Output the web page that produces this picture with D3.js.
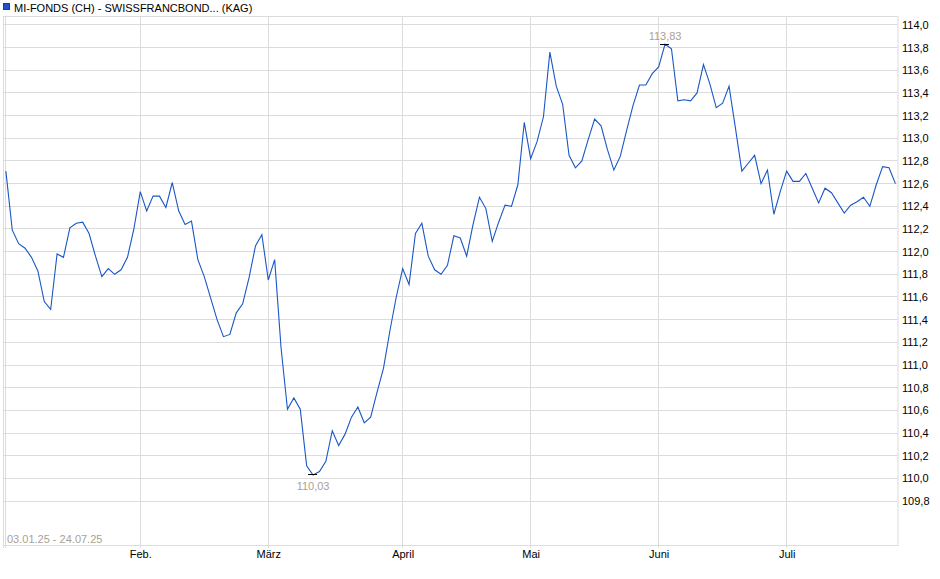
<!DOCTYPE html>
<html><head><meta charset="utf-8">
<script src="https://cdn.jsdelivr.net/npm/d3@7/dist/d3.min.js"></script>
<style>
body{margin:0;background:#fff}
svg{display:block}
text{font-family:"Liberation Sans",Arial,sans-serif;font-size:11px}
</style>
</head><body>
<svg id="chart" width="940" height="579"></svg>
<script>
const seriesName = "MI-FONDS (CH) - SWISSFRANCBOND... (KAG)";
const periodLabel = "03.01.25 - 24.07.25";
// daily prices (trading days 03.01.25 – 24.07.25)
const values = [
  112.71,112.19,112.07,112.03,111.95,111.83,111.56,111.49,111.98,111.95,
  112.21,112.25,112.26,112.16,111.96,111.78,111.85,111.80,111.84,111.95,
  112.20,112.53,112.36,112.49,112.49,112.39,112.61,112.36,112.24,112.27,
  111.93,111.78,111.59,111.40,111.25,111.27,111.46,111.54,111.77,112.05,
  112.15,111.75,111.93,111.15,110.61,110.71,110.61,110.11,110.03,110.06,
  110.15,110.42,110.29,110.39,110.54,110.63,110.49,110.54,110.76,110.97,
  111.30,111.60,111.85,111.71,112.16,112.25,111.96,111.84,111.80,111.88,
  112.14,112.12,111.96,112.24,112.48,112.38,112.09,112.26,112.41,112.40,
  112.59,113.14,112.82,112.97,113.19,113.76,113.46,113.30,112.85,112.74,
  112.80,112.99,113.17,113.11,112.90,112.72,112.84,113.07,113.29,113.47,
  113.47,113.57,113.63,113.83,113.79,113.33,113.34,113.33,113.40,113.65,
  113.48,113.27,113.31,113.46,113.09,112.71,112.78,112.85,112.60,112.72,
  112.33,112.53,112.71,112.62,112.62,112.69,112.56,112.43,112.56,112.52,
  112.43,112.34,112.41,112.44,112.48,112.40,112.59,112.75,112.74,112.60
];
const monthLabels = ["Feb.","März","April","Mai","Juni","Juli"];
const monthStartIndex = [21,41,62,82,102,122];
const yTicks = [109.8,110.0,110.2,110.4,110.6,110.8,111.0,111.2,111.4,111.6,111.8,
                112.0,112.2,112.4,112.6,112.8,113.0,113.2,113.4,113.6,113.8,114.0];

const svg = d3.select("#chart");
const L = 3, R = 898, T = 16, B = 545;
const gridColor = "#dcdcdc";
const lineColor = "#1a57c6";
const noteColor = "#aa9f94";

const x = d3.scaleLinear().domain([-0.45, values.length - 0.6]).range([L, R]);
const y = d3.scaleLinear().domain([109.412, 114.079]).range([B, T]);
const de = d3.formatLocale({decimal: ",", thousands: ".", grouping: [3], currency: ["", " €"]});
const f1 = de.format(".1f"), f2 = de.format(".2f");
const crisp = v => Math.floor(v) + 0.5;

// horizontal grid + right axis
const yAxis = d3.axisRight(y).tickValues(yTicks).tickFormat(f1).tickSize(0).tickPadding(4);
const gy = svg.append("g").attr("transform", `translate(${R},0)`).call(yAxis);
gy.select(".domain").remove();
gy.selectAll("text").attr("fill", "#000").style("font-size", "11px")
  .style("font-family", '"Liberation Sans",Arial,sans-serif');
svg.append("g").selectAll("line").data(yTicks).join("line")
  .attr("x1", L).attr("x2", R)
  .attr("y1", d => crisp(y(d))).attr("y2", d => crisp(y(d)))
  .attr("stroke", gridColor).attr("stroke-width", 1);

// vertical grid (start + month starts)
const vIdx = [0].concat(monthStartIndex);
svg.append("g").selectAll("line").data(vIdx).join("line")
  .attr("x1", d => crisp(x(d))).attr("x2", d => crisp(x(d)))
  .attr("y1", T).attr("y2", B + 3)
  .attr("stroke", gridColor).attr("stroke-width", 1);

// bottom axis labels
const xAxis = d3.axisBottom(x).tickValues(monthStartIndex)
  .tickFormat((d, i) => monthLabels[i]).tickSize(0).tickPadding(5);
const gx = svg.append("g").attr("transform", `translate(0,${B})`).call(xAxis);
gx.select(".domain").remove();
gx.selectAll("text").attr("fill", "#000").style("font-size", "11px")
  .style("font-family", '"Liberation Sans",Arial,sans-serif');

// plot border
svg.append("rect").attr("x", L + 0.5).attr("y", T + 0.5)
  .attr("width", R - L - 0.5).attr("height", B - T)
  .attr("fill", "none").attr("stroke", gridColor);
svg.append("line").attr("x1", L + 0.5).attr("x2", L + 0.5).attr("y1", B).attr("y2", B + 3).attr("stroke", gridColor);

// line
const line = d3.line().x((d, i) => x(i)).y(d => y(d));
svg.append("path").datum(values).attr("d", line)
  .attr("fill", "none").attr("stroke", lineColor).attr("stroke-width", 1.1);

// extremes
const iMin = d3.minIndex(values), iMax = d3.maxIndex(values);
[[iMin, 15.5], [iMax, -4.5]].forEach(([i, dy]) => {
  svg.append("line").attr("x1", x(i) - 5).attr("x2", x(i) + 4)
    .attr("y1", crisp(y(values[i]))).attr("y2", crisp(y(values[i])))
    .attr("stroke", "#000").attr("stroke-width", 1);
  svg.append("text").attr("x", x(i)).attr("y", y(values[i]) + dy)
    .attr("text-anchor", "middle").attr("fill", noteColor).text(f2(values[i]));
});

// period label
svg.append("text").attr("x", 7).attr("y", 543).attr("fill", noteColor).text(periodLabel);

// legend
svg.append("rect").attr("x", 3.5).attr("y", 3.5).attr("width", 6).attr("height", 6)
  .attr("fill", "#1f54c8").attr("stroke", "#163d8f");
svg.append("text").attr("x", 14).attr("y", 12).attr("fill", "#000").text(seriesName);
</script>
</body></html>
